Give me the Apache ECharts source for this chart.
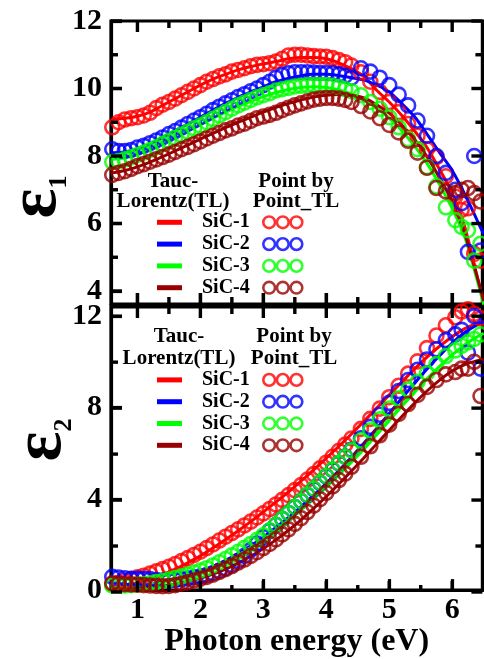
<!DOCTYPE html>
<html>
<head>
<meta charset="utf-8">
<script src="https://cdn.jsdelivr.net/npm/echarts@6/dist/echarts.min.js"></script>
<style>
html,body{margin:0;padding:0;background:#fff;}
#chart{width:484px;height:659px;}
</style>
</head>
<body>
<div id="chart"></div>
<script>
// ---------- data ----------
const NAMES = ['SiC-1', 'SiC-2', 'SiC-3', 'SiC-4'];

// photon energies of the point-by-point data (eV)
const energyPts = [0.6,0.7,0.8,0.9,1.0,1.1,1.2,1.3,1.4,1.5,1.6,1.7,1.8,1.9,2.0,2.1,2.2,2.3,2.4,2.5,2.6,2.7,2.8,2.9,3.0,3.1,3.2,3.3,3.4,3.5,3.6,3.7,3.8,3.9,4.0,4.1,4.2,4.3,4.4,4.55,4.7,4.85,5.0,5.15,5.3,5.45,5.6,5.75,5.9,6.05,6.15,6.25,6.35,6.45];
// photon energies of the Tauc-Lorentz curves (eV)
const energyFit = [0.6,0.8,1.0,1.2,1.4,1.6,1.8,2.0,2.2,2.4,2.6,2.8,3.0,3.2,3.4,3.6,3.8,4.0,4.2,4.4,4.6,4.8,5.0,5.2,5.4,5.6,5.8,6.0,6.2,6.4,6.5];

// epsilon_1, point by point
const e1PtsSiC1 = [8.85,9.0,9.08,9.12,9.15,9.2,9.28,9.42,9.52,9.6,9.7,9.8,9.9,10.0,10.1,10.2,10.28,10.36,10.42,10.5,10.55,10.6,10.66,10.7,10.72,10.75,10.8,10.88,10.98,11.0,11.0,10.98,10.96,10.95,10.94,10.9,10.84,10.78,10.68,10.48,10.2,9.9,9.6,9.3,8.95,8.6,8.2,7.97,7.4,6.8,6.4,6.45,5.1,4.9];
const e1PtsSiC2 = [8.2,8.15,8.15,8.18,8.25,8.3,8.38,8.46,8.55,8.65,8.74,8.84,8.95,9.05,9.15,9.25,9.36,9.46,9.56,9.65,9.75,9.83,9.92,10.0,10.1,10.2,10.32,10.4,10.45,10.48,10.48,10.48,10.47,10.46,10.46,10.45,10.42,10.38,10.32,10.6,10.5,10.32,10.1,9.82,9.5,9.05,8.6,8.0,7.5,7.0,6.6,5.16,8.0,5.2];
const e1PtsSiC3 = [7.82,7.85,7.9,7.96,8.03,8.1,8.18,8.26,8.36,8.45,8.54,8.63,8.72,8.82,8.9,9.0,9.1,9.2,9.3,9.4,9.5,9.58,9.66,9.74,9.8,9.86,9.94,9.98,10.02,10.06,10.08,10.1,10.1,10.1,10.1,10.08,10.04,9.98,9.92,9.8,9.6,9.4,9.15,8.85,8.5,8.2,7.67,7.1,6.48,6.1,5.9,5.8,4.9,5.4];
const e1PtsSiC4 = [7.44,7.5,7.55,7.62,7.7,7.76,7.83,7.9,7.97,8.04,8.12,8.2,8.27,8.35,8.43,8.52,8.6,8.68,8.76,8.82,8.9,8.96,9.04,9.12,9.17,9.22,9.28,9.36,9.43,9.5,9.56,9.62,9.67,9.7,9.72,9.72,9.7,9.66,9.6,9.48,9.32,9.12,8.92,8.7,8.45,8.1,7.65,7.05,6.95,6.9,7.0,7.05,6.9,6.65];

// epsilon_1, Tauc-Lorentz
const e1FitSiC1 = [9.1,9.12,9.18,9.3,9.5,9.7,9.9,10.1,10.28,10.42,10.55,10.65,10.73,10.8,10.88,10.92,10.92,10.88,10.76,10.58,10.35,9.95,9.6,9.2,8.75,8.25,7.6,6.9,5.9,4.4,3.7];
const e1FitSiC2 = [8.1,8.12,8.2,8.35,8.55,8.75,8.95,9.15,9.36,9.56,9.74,9.9,10.05,10.2,10.3,10.38,10.42,10.42,10.38,10.32,10.25,10.1,9.9,9.55,9.17,8.65,8.1,7.57,6.87,6.08,5.68];
const e1FitSiC3 = [7.9,7.95,8.05,8.2,8.38,8.56,8.75,8.93,9.12,9.3,9.47,9.62,9.76,9.88,9.97,10.03,10.05,10.03,9.96,9.84,9.66,9.42,9.12,8.75,8.3,7.78,7.15,6.45,5.6,4.3,3.6];
const e1FitSiC4 = [7.5,7.57,7.68,7.82,7.98,8.15,8.32,8.5,8.67,8.84,9.0,9.15,9.3,9.44,9.56,9.66,9.75,9.8,9.82,9.8,9.72,9.52,9.27,8.92,8.5,7.98,7.35,6.65,5.7,4.4,3.7];

// epsilon_2, point by point
const e2PtsSiC1 = [0.25,0.32,0.4,0.48,0.56,0.63,0.72,0.82,0.92,1.02,1.14,1.27,1.4,1.54,1.68,1.84,2.0,2.17,2.34,2.5,2.66,2.83,3.0,3.18,3.36,3.55,3.75,3.95,4.16,4.38,4.6,4.84,5.08,5.33,5.58,5.84,6.1,6.37,6.64,7.06,7.5,7.95,8.45,8.95,9.48,10.02,10.6,11.15,11.6,11.95,12.2,12.3,12.1,11.9];
const e2PtsSiC2 = [0.58,0.55,0.52,0.5,0.5,0.5,0.48,0.44,0.42,0.42,0.44,0.47,0.51,0.56,0.6,0.66,0.74,0.84,0.96,1.1,1.28,1.5,1.76,2.04,2.32,2.6,2.86,3.12,3.38,3.64,3.9,4.16,4.42,4.7,4.98,5.26,5.55,5.85,6.15,6.65,7.15,7.68,8.2,8.72,9.2,9.65,10.1,10.55,10.95,11.2,11.4,10.4,12.0,9.7];
const e2PtsSiC3 = [0.2,0.2,0.2,0.22,0.24,0.27,0.3,0.35,0.4,0.46,0.53,0.6,0.68,0.77,0.86,0.96,1.08,1.22,1.36,1.52,1.68,1.85,2.02,2.2,2.4,2.62,2.86,3.12,3.38,3.64,3.9,4.18,4.45,4.72,5.0,5.28,5.56,5.84,6.12,6.55,7.0,7.48,7.95,8.4,8.78,9.12,9.5,9.9,10.25,10.5,10.7,10.85,11.0,11.2];
const e2PtsSiC4 = [0.3,0.28,0.26,0.25,0.24,0.22,0.2,0.18,0.17,0.18,0.22,0.28,0.34,0.42,0.5,0.58,0.68,0.8,0.92,1.05,1.2,1.34,1.5,1.66,1.84,2.02,2.22,2.44,2.66,2.9,3.15,3.42,3.7,3.98,4.26,4.54,4.82,5.1,5.4,5.84,6.3,6.78,7.25,7.72,8.15,8.55,8.9,9.2,9.45,9.55,9.7,9.7,10.0,8.5];

// epsilon_2, Tauc-Lorentz
const e2FitSiC1 = [0.15,0.22,0.32,0.48,0.68,0.92,1.2,1.5,1.85,2.22,2.6,3.0,3.42,3.85,4.3,4.78,5.27,5.78,6.3,6.84,7.4,7.97,8.55,9.12,9.68,10.2,10.68,11.1,11.45,11.68,11.75];
const e2FitSiC2 = [0.12,0.14,0.18,0.25,0.35,0.48,0.64,0.82,1.04,1.3,1.6,1.94,2.32,2.74,3.18,3.66,4.16,4.68,5.24,5.82,6.44,7.08,7.74,8.4,9.05,9.68,10.28,10.82,11.28,11.62,11.75];
const e2FitSiC3 = [0.1,0.12,0.15,0.22,0.32,0.45,0.6,0.78,1.0,1.25,1.54,1.86,2.22,2.62,3.06,3.52,4.0,4.5,5.04,5.6,6.18,6.8,7.42,8.05,8.66,9.25,9.8,10.3,10.75,11.1,11.25];
const e2FitSiC4 = [0.05,0.06,0.08,0.12,0.18,0.27,0.38,0.52,0.7,0.92,1.18,1.48,1.82,2.2,2.62,3.08,3.58,4.1,4.65,5.22,5.8,6.4,7.0,7.6,8.18,8.72,9.2,9.6,9.88,10.05,10.1];

// axis ticks (major labelled, minor unlabelled) and ranges
const xMajorTicks = [1, 2, 3, 4, 5, 6];
const xMinorTicks = [1.5, 2.5, 3.5, 4.5, 5.5];
const y1MajorTicks = [4, 6, 8, 10, 12];
const y1MinorTicks = [5, 7, 9, 11];
const y2MajorTicks = [0, 4, 8, 12];
const y2MinorTicks = [2, 6, 10];
const xRange = [0.58, 6.48];
const y1Range = [3.615, 12];
const y2Range = [0, 12.4];

// ---------- layout & styles ----------
const W = 484;
const GRIDS = [
  { left: 111, right: 1.6, top: 21, height: 283 },
  { left: 111, right: 1.6, top: 307, height: 285 }
];
const COLORS = ['#ff0000', '#0000ff', '#00ff00', '#990000'];
const FONT = '"Liberation Serif", "Times New Roman", serif';
const e1Pts = [e1PtsSiC1, e1PtsSiC2, e1PtsSiC3, e1PtsSiC4];
const e1Fit = [e1FitSiC1, e1FitSiC2, e1FitSiC3, e1FitSiC4];
const e2Pts = [e2PtsSiC1, e2PtsSiC2, e2PtsSiC3, e2PtsSiC4];
const e2Fit = [e2FitSiC1, e2FitSiC2, e2FitSiC3, e2FitSiC4];
const pairs = (xs, ys) => xs.map((x, i) => [x, ys[i]]);

const labelStyle = { fontFamily: FONT, fontWeight: 'bold', fontSize: 30, color: '#000' };
const tickStyle = { show: true, inside: true, length: 11, lineStyle: { color: '#000', width: 3.2 } };

function axis(grid, pos, range, labels, margin, extra) {
  return Object.assign({
    type: 'value', gridIndex: grid, position: pos,
    min: range[0], max: range[1],
    axisLine: { show: true, onZero: false, lineStyle: { color: '#000', width: 3.2 } },
    axisTick: Object.assign({ customValues: labels || [] }, tickStyle),
    axisLabel: labels ? Object.assign({ show: true, customValues: labels, margin: margin }, labelStyle) : { show: false },
    splitLine: { show: false },
    minorTick: { show: false }
  }, extra || {});
}

const xAxes = [
  axis(0, 'bottom', xRange, xMajorTicks, 5, { axisLabel: { show: false } }),
  axis(1, 'bottom', xRange, xMajorTicks, 5, {
    name: 'Photon energy (eV)', nameLocation: 'middle', nameGap: 32,
    nameTextStyle: { fontFamily: FONT, fontWeight: 'bold', fontSize: 32, color: '#000' } })
];
const yAxes = [
  axis(0, 'left', y1Range, y1MajorTicks, 9),
  axis(1, 'left', y2Range, y2MajorTicks, 9)
];

const series = [];
[[0, e1Pts, e1Fit], [1, e2Pts, e2Fit]].forEach(([ax, pts, fit]) => {
  NAMES.forEach((n, i) => {
    series.push({
      type: 'line', name: n, xAxisIndex: ax, yAxisIndex: ax,
      data: pairs(energyFit, fit[i]), smooth: 0.3, showSymbol: false, symbol: 'none',
      lineStyle: { color: COLORS[i], width: 3 }, itemStyle: { color: COLORS[i] }, z: 2
    });
  });
  NAMES.forEach((n, i) => {
    series.push({
      type: 'scatter', name: 'PbP ' + n, xAxisIndex: ax, yAxisIndex: ax,
      data: pairs(energyPts, pts[i]), symbol: 'circle', symbolSize: 14,
      itemStyle: { color: 'rgba(0,0,0,0)', borderColor: COLORS[i], borderWidth: 2.6 }, z: 3
    });
  });
});

const ringsIcon = 'path://M0,6A6,6,0,1,1,12,6A6,6,0,1,1,0,6ZM14,6A6,6,0,1,1,26,6A6,6,0,1,1,14,6ZM28,6A6,6,0,1,1,40,6A6,6,0,1,1,28,6Z';
const legText = { fontFamily: FONT, fontWeight: 'bold', fontSize: 20, color: '#000', lineHeight: 21.8 };
function lineLegend(top) {
  return {
    orient: 'vertical', left: 157, top: top, padding: 0, itemGap: 0, selectedMode: false,
    itemWidth: 25, itemHeight: 5, icon: 'rect',
    textStyle: Object.assign({ padding: [0, 0, 0, 15] }, legText),
    data: NAMES
  };
}
function ptsLegend(top) {
  return {
    orient: 'vertical', left: 262, top: top, padding: 0, itemGap: 0, selectedMode: false,
    itemWidth: 39, itemHeight: 12, formatter: () => ' ', textStyle: legText,
    data: NAMES.map((n, i) => ({ name: 'PbP ' + n, icon: ringsIcon,
      itemStyle: { color: 'rgba(0,0,0,0)', borderColor: COLORS[i], borderWidth: 2.6 } }))
  };
}

function txt(x, y, s, size) {
  return { type: 'text', x: x, y: y, z: 10,
    style: { text: s, fontFamily: FONT, fontWeight: 'bold', fontSize: size || 21, fill: '#000', align: 'center', verticalAlign: 'middle' } };
}
function epsLabel(x, y, sub) {
  return { type: 'text', x: x, y: y, rotation: Math.PI / 2, z: 10,
    style: { text: '{e|ε}{s|' + sub + '}', align: 'center', verticalAlign: 'middle', fill: '#000',
      rich: {
        e: { fontFamily: FONT, fontWeight: 'bold', fontSize: 70, fill: '#000' },
        s: { fontFamily: FONT, fontWeight: 'bold', fontSize: 26, fill: '#000', verticalAlign: 'bottom' }
      } } };
}

// inward tick marks on all four sides (frame decoration), from the grid layout and axis ranges
const MAJOR_LEN = 11, MINOR_LEN = 7, TICK_W = 3.4;
const tickEls = [];
[[GRIDS[0], y1Range, y1MajorTicks, y1MinorTicks], [GRIDS[1], y2Range, y2MajorTicks, y2MinorTicks]].forEach(([g, yr, yMaj, yMin]) => {
  const gw = W - g.left - g.right;
  const px = v => g.left + (v - xRange[0]) / (xRange[1] - xRange[0]) * gw;
  const py = v => g.top + g.height - (v - yr[0]) / (yr[1] - yr[0]) * g.height;
  [[xMajorTicks, MAJOR_LEN], [xMinorTicks, MINOR_LEN]].forEach(([vals, L]) => vals.forEach(v => {
    const x = px(v);
    tickEls.push({ type: 'rect', z: 50, silent: true, shape: { x: x - TICK_W / 2, y: g.top + g.height - L, width: TICK_W, height: L }, style: { fill: '#000' } });
    tickEls.push({ type: 'rect', z: 50, silent: true, shape: { x: x - TICK_W / 2, y: g.top, width: TICK_W, height: L }, style: { fill: '#000' } });
  }));
  [[yMaj, MAJOR_LEN], [yMin, MINOR_LEN]].forEach(([vals, L]) => vals.forEach(v => {
    const y = py(v);
    tickEls.push({ type: 'rect', z: 50, silent: true, shape: { x: g.left, y: y - TICK_W / 2, width: L, height: TICK_W }, style: { fill: '#000' } });
    tickEls.push({ type: 'rect', z: 50, silent: true, shape: { x: W - g.right - L, y: y - TICK_W / 2, width: L, height: TICK_W }, style: { fill: '#000' } });
  }));
});

const frame = { show: true, borderColor: '#000', borderWidth: 3.2, backgroundColor: 'rgba(0,0,0,0)' };
const option = {
  animation: false,
  backgroundColor: '#fff',
  grid: GRIDS.map(g => Object.assign({}, g, frame)),
  xAxis: xAxes,
  yAxis: yAxes,
  legend: [lineLegend(211.4), ptsLegend(211.4), lineLegend(369), ptsLegend(369)],
  graphic: {
    elements: [
      txt(173, 182, 'Tauc-'), txt(173, 202, 'Lorentz(TL)'),
      txt(296, 182, 'Point by'), txt(296, 202, 'Point_TL'),
      txt(179, 337, 'Tauc-'), txt(179, 359, 'Lorentz(TL)'),
      txt(294, 337, 'Point by'), txt(294, 359, 'Point_TL'),
      epsLabel(37, 197, '1'), epsLabel(42, 440, '2')
    ].concat(tickEls)
  },
  series: series
};

const chart = echarts.init(document.getElementById('chart'), null, { renderer: 'canvas' });
chart.setOption(option);
</script>
</body>
</html>
